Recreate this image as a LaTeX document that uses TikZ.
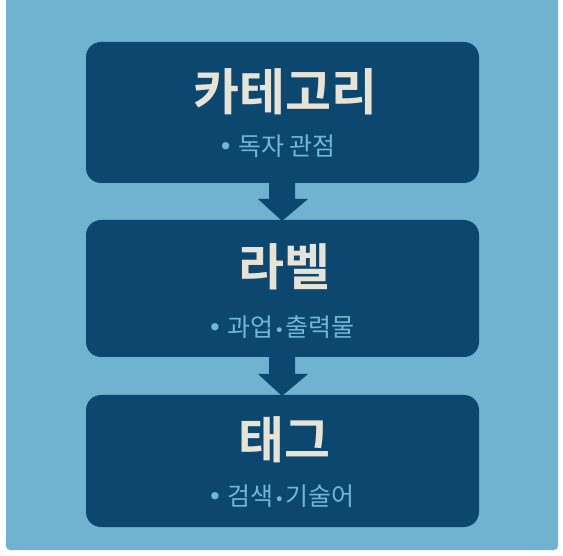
\documentclass[tikz,border=0pt]{standalone}
\usepackage{fontspec}
\newfontfamily\krb{Noto Sans CJK KR Bold}
\newfontfamily\krr{Noto Sans CJK KR}
\newfontfamily\dotfont{DejaVu Sans}
\definecolor{bgblue}{HTML}{6FB3D0}
\definecolor{boxblue}{HTML}{0B476E}
\definecolor{titlecol}{HTML}{E7E3D7}
\definecolor{subcol}{HTML}{72B6D8}
\newcommand{\bul}{{\dotfont •}\hspace{5pt}}
\newcommand{\mdot}{\hspace{1pt}{\dotfont\fontsize{17}{20}\selectfont •}\hspace{1pt}}
\begin{document}
\begin{tikzpicture}[x=1pt,y=-1pt,
  card/.style={fill=boxblue,rounded corners=15pt},
  ttl/.style={text=titlecol,font=\krb\fontsize{50}{54}\selectfont,inner sep=0pt},
  sub/.style={text=subcol,font=\krr\fontsize{25}{28}\selectfont,inner sep=0pt},
  flow/.style={fill=boxblue}]
\useasboundingbox (0,0) rectangle (563,556);
\begin{scope}
\clip (0,0) rectangle (563,556);
\fill[bgblue,rounded corners=4pt] (6,-10) rectangle (558,550);
\end{scope}
\fill[card] (86,42) rectangle (479,183);
\fill[card] (86,220) rectangle (479,357);
\fill[card] (86,395) rectangle (479,527);
\node[ttl] (t1) at (285,92) {카테고리};
\node[sub] (s1) at (277,146) {\bul 독자 관점};
\node[ttl] (t2) at (284,267) {라벨};
\node[sub] (s2) at (281,327) {\bul 과업\mdot 출력물};
\node[ttl] (t3) at (284,440) {태그};
\node[sub] (s3) at (281,496) {\bul 검색\mdot 기술어};
\fill[flow] (269,182) -- (295,182) -- (295,199) -- (308,199) -- (282,221) -- (258,199) -- (269,199) -- cycle;
\fill[flow] (269,356) -- (295,356) -- (295,374) -- (308,374) -- (282,396) -- (258,374) -- (269,374) -- cycle;
\end{tikzpicture}
\end{document}
